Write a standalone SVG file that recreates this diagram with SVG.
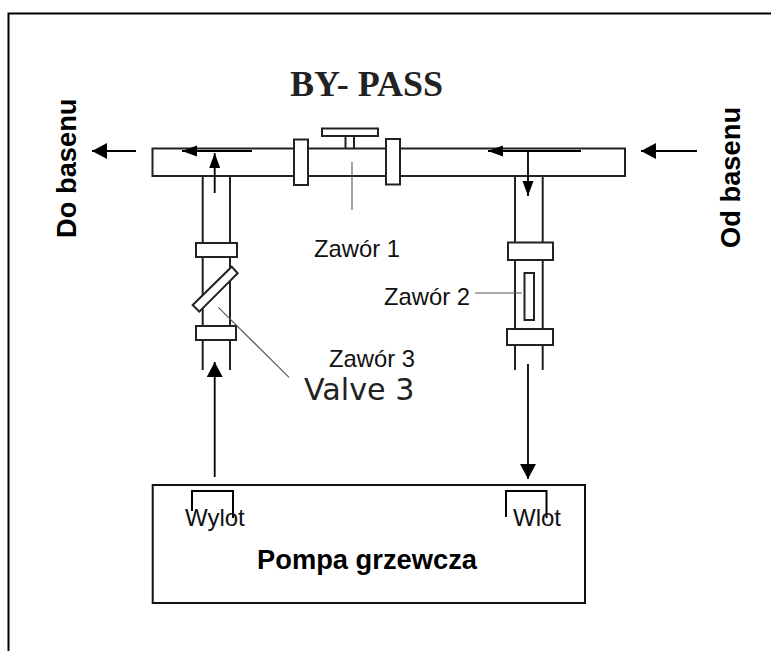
<svg xmlns="http://www.w3.org/2000/svg" width="771" height="651" viewBox="0 0 771 651">
<style>
.p{fill:#fff;stroke:#222;stroke-width:2}
.l{fill:none;stroke:#222;stroke-width:2}
.t{fill:none;stroke:#555;stroke-width:1.1}
.a{fill:none;stroke:#000;stroke-width:1.8;marker-end:url(#h)}
.s{fill:none;stroke:#000;stroke-width:1.8;marker-end:url(#m)}
.k{fill:none;stroke:#000;stroke-width:2}
text{font-family:"Liberation Sans",Arial,sans-serif;fill:#000}
.b{font-weight:700;font-size:27.3px}
.r{font-size:23.8px;fill:#111}
</style>
<defs>
<marker id="h" markerUnits="userSpaceOnUse" markerWidth="16" markerHeight="16" refX="15" refY="8" orient="auto"><path d="M0 0L15 8L0 16Z" fill="#000"/></marker>
<marker id="m" markerUnits="userSpaceOnUse" markerWidth="16" markerHeight="12" refX="15" refY="6" orient="auto"><path d="M0 0.5L15 6L0 11.5Z" fill="#000"/></marker>
</defs>
<rect width="771" height="651" fill="#fff"/>
<g id="frame"><path class="k" d="M8.5 651V13.5H771"/></g>
<g id="title"><text x="290" y="96" style="font-family:'Liberation Serif','Times New Roman',serif;font-weight:700;font-size:36px;fill:#222">BY- PASS</text></g>
<g id="pipes">
<g id="header-pipe"><rect class="p" x="152.5" y="148.5" width="472.5" height="27.5"/></g>
<g id="zawor-1">
<path class="l" d="M345.5 136V148.5M354 136V148.5"/>
<rect class="p" x="322" y="128.5" width="56" height="7.5"/>
<rect class="p" x="294" y="139.5" width="14" height="45.5"/>
<rect class="p" x="386" y="139" width="14" height="45.5"/>
<path class="t" d="M352 162V210"/>
<text class="r" x="314" y="257">Zawór 1</text>
</g>
<g id="zawor-3">
<path class="l" d="M202.7 176V370M230 176V370"/>
<rect class="p" x="196" y="243" width="41" height="14"/>
<rect class="p" x="196" y="326" width="40" height="14"/>
<path class="p" d="M192.7 305L231.7 266.7L237.7 273.3L199.3 311.7Z"/>
<path class="t" d="M218.3 307.3L289 377.3"/>
<text class="r" x="329" y="366.7">Zawór 3</text>
<text x="304" y="400" style="font-family:'DejaVu Sans',sans-serif;font-size:30.2px;fill:#222">Valve 3</text>
</g>
<g id="zawor-2">
<path class="l" d="M515 176V370M542.7 176V370"/>
<rect class="p" x="508" y="242.5" width="45" height="17.5"/>
<rect class="p" x="507" y="329" width="46" height="16"/>
<rect class="p" x="524.5" y="273" width="9.5" height="47"/>
<path class="t" d="M475 293H521.7"/>
<text class="r" x="384" y="305">Zawór 2</text>
</g>
</g>
<g id="pompa">
<rect x="152.7" y="485" width="432.3" height="118" fill="#fff" stroke="#111" stroke-width="2"/>
<path class="k" d="M192 511V491H233V518"/>
<path class="k" d="M506 517V491H546.5V518"/>
<text x="185" y="526" style="font-size:24px;fill:#111">Wylot</text>
<text x="513" y="526" style="font-size:24px;fill:#111">Wlot</text>
<text class="b" x="257" y="569">Pompa grzewcza</text>
</g>
<g id="labels">
<text class="b" transform="translate(76 238) rotate(-90)">Do basenu</text>
<text class="b" transform="translate(740 248) rotate(-90)">Od basenu</text>
</g>
<g id="connectors">
<path class="a" d="M136 151H92"/>
<path class="s" d="M252 151H182"/>
<path class="s" d="M214.7 193V153"/>
<path class="a" d="M697 151H641"/>
<path class="s" d="M581 151H488"/>
<path class="s" d="M528 151V196"/>
<path class="a" d="M214.7 477V362"/>
<path class="a" d="M528 364V479"/>
</g>
</svg>
